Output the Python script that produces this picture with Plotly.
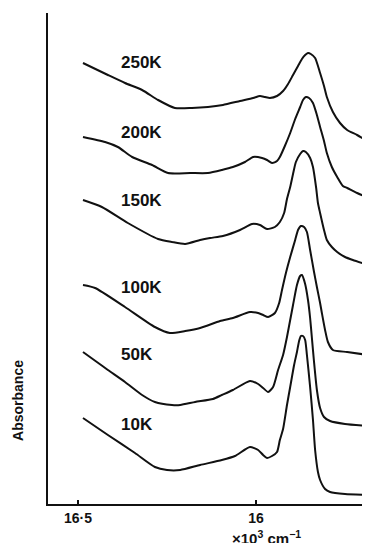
import plotly.graph_objects as go

# wavenumber (x10^3 cm^-1) and absorbance (arbitrary, offset) for each temperature
wn_250 = [16.486,16.416,16.368,16.320,16.275,16.228,16.180,16.135,16.093,16.045,16.008,15.989,15.975,15.961,15.941,15.924,15.910,15.896,15.882,15.871,15.862,15.854,15.846,15.834,15.820,15.809,15.801,15.784,15.764,15.744,15.716,15.683]
ab_250 = [4.41,4.29,4.21,4.14,4.04,3.96,3.96,3.97,3.99,4.03,4.06,4.08,4.07,4.06,4.08,4.13,4.20,4.29,4.38,4.45,4.49,4.51,4.50,4.46,4.31,4.18,4.07,3.92,3.81,3.74,3.69,3.62]

wn_200 = [16.486,16.424,16.388,16.348,16.292,16.247,16.185,16.135,16.096,16.065,16.031,16.008,15.983,15.969,15.955,15.941,15.933,15.919,15.904,15.890,15.876,15.868,15.860,15.851,15.840,15.829,15.820,15.809,15.801,15.787,15.772,15.756,15.744,15.716,15.683]
ab_200 = [3.67,3.62,3.57,3.47,3.39,3.31,3.31,3.31,3.34,3.37,3.42,3.47,3.46,3.44,3.41,3.43,3.47,3.58,3.71,3.85,3.97,4.04,4.07,4.06,4.01,3.89,3.77,3.63,3.51,3.37,3.27,3.18,3.16,3.11,3.06]

wn_150 = [16.486,16.433,16.360,16.275,16.236,16.199,16.157,16.129,16.093,16.045,16.011,15.989,15.969,15.947,15.933,15.921,15.913,15.904,15.896,15.888,15.876,15.868,15.860,15.848,15.840,15.831,15.826,15.820,15.809,15.801,15.787,15.772,15.750,15.728,15.685]
ab_150 = [3.04,2.97,2.81,2.65,2.62,2.60,2.64,2.66,2.68,2.74,2.80,2.79,2.75,2.77,2.82,2.91,3.05,3.17,3.30,3.42,3.50,3.53,3.52,3.46,3.37,3.16,3.01,2.91,2.74,2.64,2.57,2.52,2.47,2.44,2.39]

wn_100 = [16.486,16.452,16.368,16.284,16.242,16.199,16.157,16.101,16.065,16.017,15.994,15.980,15.966,15.947,15.935,15.927,15.916,15.904,15.890,15.882,15.874,15.865,15.857,15.848,15.837,15.829,15.820,15.815,15.806,15.798,15.784,15.744,15.685]
ab_100 = [2.19,2.16,1.97,1.77,1.71,1.73,1.76,1.83,1.86,1.92,1.91,1.89,1.87,1.91,2.01,2.14,2.31,2.47,2.64,2.74,2.78,2.77,2.72,2.54,2.32,2.17,2.01,1.91,1.74,1.62,1.54,1.52,1.49]

wn_50 = [16.486,16.447,16.416,16.368,16.320,16.284,16.236,16.213,16.171,16.121,16.096,16.065,16.017,15.994,15.980,15.966,15.952,15.938,15.924,15.913,15.904,15.896,15.885,15.876,15.871,15.862,15.854,15.848,15.843,15.837,15.829,15.820,15.809,15.792,15.750,15.685]
ab_50 = [1.52,1.42,1.34,1.22,1.09,1.02,0.99,0.99,1.02,1.05,1.09,1.14,1.23,1.20,1.16,1.12,1.17,1.34,1.49,1.67,1.84,1.99,2.19,2.28,2.29,2.20,2.04,1.86,1.66,1.42,1.14,0.96,0.87,0.83,0.80,0.78]

wn_10 = [16.486,16.416,16.340,16.284,16.250,16.213,16.157,16.096,16.059,16.017,15.994,15.980,15.969,15.955,15.941,15.933,15.924,15.913,15.904,15.893,15.885,15.879,15.874,15.868,15.862,15.857,15.848,15.840,15.834,15.826,15.820,15.806,15.792,15.750,15.685]
ab_10 = [0.86,0.69,0.51,0.37,0.34,0.34,0.39,0.44,0.48,0.57,0.54,0.49,0.46,0.48,0.52,0.64,0.75,0.99,1.17,1.39,1.52,1.63,1.68,1.68,1.64,1.49,1.17,0.84,0.54,0.32,0.24,0.15,0.12,0.10,0.09]

labels = ["250K", "200K", "150K", "100K", "50K", "10K"]
label_y = [4.42, 3.72, 3.04, 2.17, 1.50, 0.80]
label_x = 16.384

tick_vals = [16.5, 16.0]
tick_text = ["16·5", "16"]

series = [(wn_250, ab_250), (wn_200, ab_200), (wn_150, ab_150),
          (wn_100, ab_100), (wn_50, ab_50), (wn_10, ab_10)]

FONT = "Liberation Sans"
INK = "#111111"

fig = go.Figure()
for (xs, ys), name in zip(series, labels):
    fig.add_trace(go.Scatter(x=xs, y=ys, mode="lines", name=name,
                             line=dict(color=INK, width=2, shape="spline", smoothing=0.6),
                             showlegend=False, hoverinfo="skip"))

for name, yv in zip(labels, label_y):
    fig.add_annotation(x=label_x, y=yv, xref="x", yref="y", text=f"<b>{name}</b>",
                       showarrow=False, xanchor="left", yanchor="middle",
                       font=dict(family=FONT, size=17, color=INK))

fig.add_annotation(x=0.68, y=-0.068, xref="paper", yref="paper",
                   text="<b>×10<sup>3</sup> cm<sup>−1</sup></b>", showarrow=False,
                   xanchor="center", yanchor="middle", borderpad=0,
                   font=dict(family=FONT, size=15, color=INK))
fig.add_annotation(x=-0.093, y=0.21, xref="paper", yref="paper",
                   text="<b>Absorbance</b>", showarrow=False, textangle=-90,
                   xanchor="center", yanchor="middle",
                   font=dict(family=FONT, size=14, color=INK))

fig.update_layout(
    width=362, height=535,
    margin=dict(l=40, r=0, t=5, b=39),
    paper_bgcolor="white", plot_bgcolor="white",
    xaxis=dict(range=[16.5843, 15.6798], showgrid=False, zeroline=False,
               showline=True, linecolor=INK, linewidth=2,
               tickvals=tick_vals, ticktext=tick_text, ticks="inside",
               ticklen=4, tickwidth=2, tickcolor=INK,
               tickfont=dict(family=FONT, size=14, color=INK, weight="bold")),
    yaxis=dict(range=[0, 4.91], showgrid=False, zeroline=False,
               showline=True, linecolor=INK, linewidth=2,
               showticklabels=False, ticks=""),
)

fig.write_html("out.html")
